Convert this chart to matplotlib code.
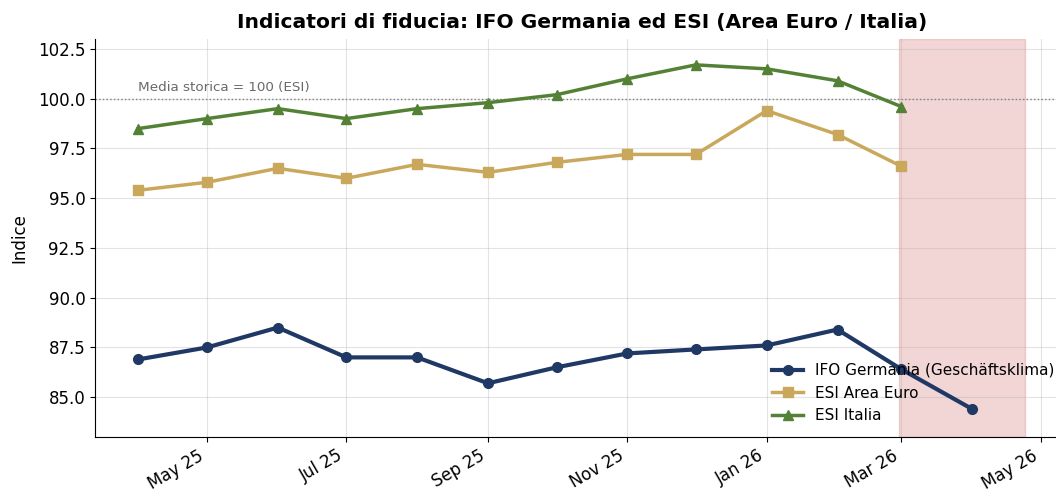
import numpy as np
import pandas as pd
import matplotlib
matplotlib.use("Agg")
import matplotlib.pyplot as plt
import matplotlib.dates as mdates

# dati mensili (apr 2025 - apr 2026)
mesi = pd.date_range("2025-04-01", "2026-04-01", freq="MS")
ifo = [86.9, 87.5, 88.5, 87.0, 87.0, 85.7, 86.5, 87.2, 87.4, 87.6, 88.4, 86.4, 84.4]
esi_ea = [95.4, 95.8, 96.5, 96.0, 96.7, 96.3, 96.8, 97.2, 97.2, 99.4, 98.2, 96.6]
esi_it = [98.5, 99.0, 99.5, 99.0, 99.5, 99.8, 100.2, 101.0, 101.7, 101.5, 100.9, 99.6]

shade_start = pd.Timestamp("2026-02-28")
shade_end = pd.Timestamp("2026-04-24")

fig = plt.figure(figsize=(10.56, 4.93), dpi=100)
ax = fig.add_axes([0.09, 0.1136, 0.9216, 0.8073])

ax.axvspan(shade_start, shade_end, color="indianred", alpha=0.25, zorder=0)
ax.axhline(100, color="gray", linestyle=":", linewidth=1)
ax.text(mesi[0], 100.25, "Media storica = 100 (ESI)", color="dimgray", fontsize=9.7, va="bottom")

ax.plot(mesi, ifo, color="#1f3864", marker="o", markersize=7, linewidth=3,
        label="IFO Germania (Geschäftsklima)")
ax.plot(mesi[:len(esi_ea)], esi_ea, color="#c9a85c", marker="s", markersize=7, linewidth=2.5,
        label="ESI Area Euro")
ax.plot(mesi[:len(esi_it)], esi_it, color="#538135", marker="^", markersize=7, linewidth=2.5,
        label="ESI Italia")

ax.set_xlim(pd.Timestamp("2025-03-13"), pd.Timestamp("2026-05-13"))
ax.set_ylim(83, 103)
ax.set_yticks(np.arange(85, 103, 2.5))
ax.xaxis.set_major_locator(mdates.MonthLocator(bymonth=[1, 3, 5, 7, 9, 11]))
ax.xaxis.set_major_formatter(mdates.DateFormatter("%b %y"))
plt.setp(ax.get_xticklabels(), rotation=30, ha="right")
ax.tick_params(labelsize=12)

ax.set_title("Indicatori di fiducia: IFO Germania ed ESI (Area Euro / Italia)",
             fontsize=14.6, fontweight="bold", x=0.5, pad=8)
ax.set_ylabel("Indice", fontsize=12, labelpad=7)
ax.grid(True, alpha=0.35)
ax.spines["top"].set_visible(False)
ax.spines["right"].set_visible(False)
ax.legend(loc="lower right", frameon=False, fontsize=11)

fig.savefig("out.png", dpi=100)
